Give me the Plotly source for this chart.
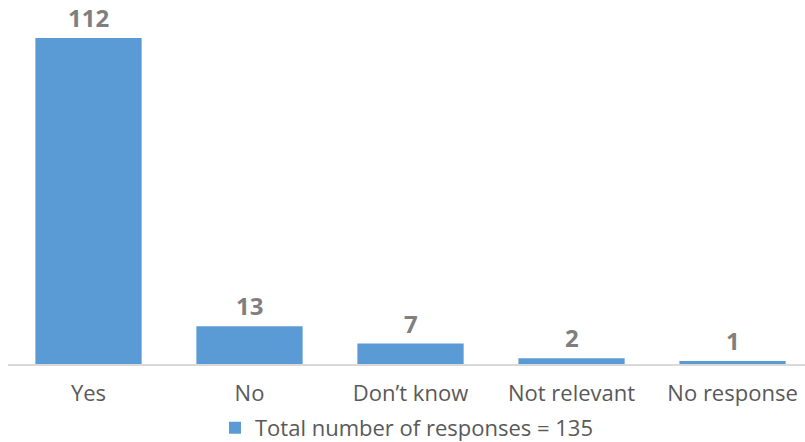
import plotly.graph_objects as go

categories = ["Yes", "No", "Don\u2019t know", "Not relevant", "No response"]
values = [112, 13, 7, 2, 1]
series_name = "Total number of responses = 135"

bar_color = "#5B9BD5"
label_color = "#7F7F7F"
tick_color = "#595959"

fig = go.Figure()
fig.add_trace(go.Bar(
    x=categories, y=values, name=series_name,
    marker=dict(color=bar_color, line=dict(width=0)),
    width=0.66, showlegend=True,
))

for c, v in zip(categories, values):
    fig.add_annotation(
        x=c, y=v, text=f"<b>{v}</b>", showarrow=False,
        yanchor="bottom", yshift=2,
        font=dict(family="Open Sans", size=24, color=label_color),
    )

fig.update_layout(
    width=805, height=442,
    margin=dict(l=8, r=0, t=10, b=78, autoexpand=False),
    paper_bgcolor="white", plot_bgcolor="white",
    font=dict(family="Open Sans", color=tick_color),
    xaxis=dict(
        range=[-0.5, 4.45], showgrid=False, zeroline=False, automargin=False,
        showline=True, linecolor="#D9D9D9", linewidth=2,
        ticks="outside", ticklen=9, tickcolor="rgba(0,0,0,0)",
        tickfont=dict(family="Open Sans", size=22, color=tick_color),
    ),
    yaxis=dict(range=[0, 121.6], visible=False, showgrid=False, zeroline=False,
               automargin=False),
    legend=dict(
        orientation="h", x=0.5, xanchor="center",
        yref="container", y=0.032, yanchor="middle",
        font=dict(family="Open Sans", size=22, color=tick_color),
        itemwidth=30, tracegroupgap=0,
    ),
)

fig.write_html(
    "out.html",
    config={"displayModeBar": False},
    post_script="document.body.style.margin='0';document.body.style.overflow='hidden';",
)
